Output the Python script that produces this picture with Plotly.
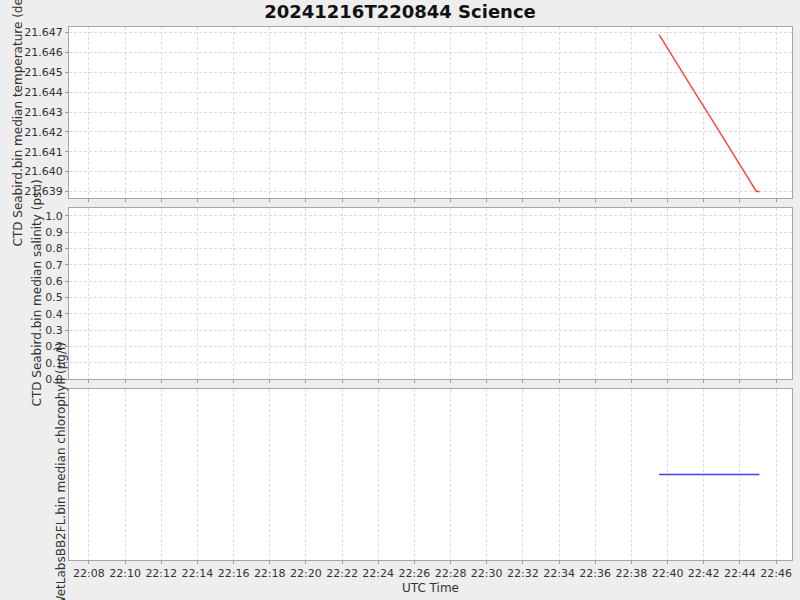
import plotly.graph_objects as go
from plotly.subplots import make_subplots

# Temperature samples (degC)
temp_time = ["2024-12-16 22:39:32", "2024-12-16 22:40:30", "2024-12-16 22:41:30",
             "2024-12-16 22:42:30", "2024-12-16 22:43:30", "2024-12-16 22:44:55",
             "2024-12-16 22:45:05"]
temp_val = [21.6469, 21.64545, 21.64400, 21.64255, 21.64110, 21.6390, 21.6390]

# Salinity: no samples in this log
sal_time = []
sal_val = []

# Chlorophyll (flat line)
chl_time = ["2024-12-16 22:39:32", "2024-12-16 22:45:05"]
chl_val = [0.5, 0.5]

x_range = ["2024-12-16 22:06:54", "2024-12-16 22:46:53"]

title = "20241216T220844 Science"
y_titles = ["CTD Seabird.bin median temperature (degC)",
            "CTD Seabird.bin median salinity (psu)",
            "WetLabsBB2FL.bin median chlorophyll (µg/l)"]

FONT = "DejaVu Sans"
GRID = "#dddddd"
BORDER = "#a6a6a6"
DASH = "3px,2px"

fig = make_subplots(rows=3, cols=1, shared_xaxes=True, vertical_spacing=0.0)

fig.add_trace(go.Scatter(x=temp_time, y=temp_val, mode="lines",
                         line=dict(color="#ff4040", width=1.4)), row=1, col=1)
fig.add_trace(go.Scatter(x=sal_time, y=sal_val, mode="lines",
                         line=dict(color="#4040ff", width=1.3)), row=2, col=1)
fig.add_trace(go.Scatter(x=chl_time, y=chl_val, mode="lines",
                         line=dict(color="#4040ff", width=1.3)), row=3, col=1)

# plot area pixel layout: x 69..792, rows 27-198 / 208-379 / 389-560
H = 533.0
doms = [[(560 - 198) / H, 1.0], [(560 - 379) / H, (560 - 208) / H], [0.0, (560 - 389) / H]]

for i in range(1, 4):
    fig.update_xaxes(
        row=i, col=1, range=x_range, type="date",
        dtick=120000, tickformat="%H:%M",
        showgrid=True, gridcolor=GRID, griddash=DASH, gridwidth=1,
        showline=True, linecolor=BORDER, linewidth=1, mirror=True,
        ticks="outside", ticklen=3, tickcolor="#999999",
        showticklabels=(i == 3), zeroline=False,
        tickfont=dict(family=FONT, size=11, color="#333333"),
    )

fig.update_xaxes(row=3, col=1, title=dict(text="UTC Time", standoff=4,
                                           font=dict(family=FONT, size=12, color="#333333")))

fig.update_yaxes(row=1, col=1, domain=doms[0], range=[21.63867, 21.64728],
                 dtick=0.001, tickformat=".3f")
fig.update_yaxes(row=2, col=1, domain=doms[1], range=[0.0, 1.049],
                 dtick=0.1, tickformat=".1f")
fig.update_yaxes(row=3, col=1, domain=doms[2], range=[0.0, 1.0],
                 showticklabels=False, ticks="", showgrid=False)

for i in range(1, 4):
    fig.update_yaxes(
        row=i, col=1, zeroline=False,
        showline=True, linecolor=BORDER, linewidth=1, mirror=True,
        gridcolor=GRID, griddash=DASH, gridwidth=1,
        tickfont=dict(family=FONT, size=11, color="#333333"),
    )
fig.update_yaxes(row=1, col=1, ticks="outside", ticklen=3, tickcolor="#999999")
fig.update_yaxes(row=2, col=1, ticks="outside", ticklen=3, tickcolor="#999999")

# rotated axis titles (they overlap like in the original renderer)
title_x = [18, 36, 60]
title_y = [112.5, 293.5, 474.5]
for t, px, py in zip(y_titles, title_x, title_y):
    fig.add_annotation(
        text=t, textangle=-90, showarrow=False,
        xref="paper", yref="paper",
        x=(px - 69) / 723.0, y=(560 - py) / H,
        xanchor="center", yanchor="middle",
        font=dict(family=FONT, size=12, color="#333333"),
    )

fig.update_layout(
    width=800, height=600,
    margin=dict(l=69, r=8, t=27, b=40),
    paper_bgcolor="#eeeeee", plot_bgcolor="#ffffff",
    showlegend=False,
    title=dict(text=title, x=0.5, xanchor="center", y=1 - 12 / 600.0, yanchor="middle",
               font=dict(family=FONT, size=18, color="#111111", weight="bold")),
)

fig.write_html("out.html", config={"displayModeBar": False},
               post_script="document.body.style.margin='0';")
